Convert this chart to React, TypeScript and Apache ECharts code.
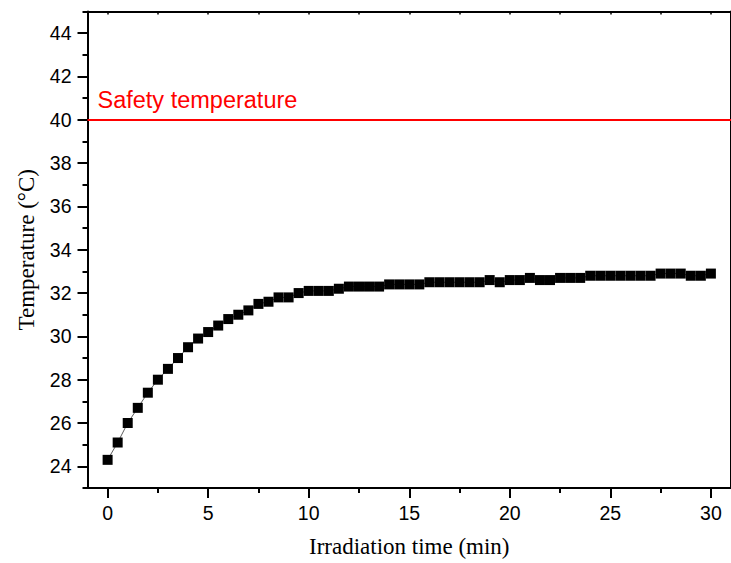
import React, { useEffect, useRef } from "react";
import * as echarts from "echarts";

const times = [
  0, 0.5, 1, 1.5, 2, 2.5, 3, 3.5, 4, 4.5, 5, 5.5, 6, 6.5, 7, 7.5, 8, 8.5, 9, 9.5,
  10, 10.5, 11, 11.5, 12, 12.5, 13, 13.5, 14, 14.5, 15, 15.5, 16, 16.5, 17, 17.5,
  18, 18.5, 19, 19.5, 20, 20.5, 21, 21.5, 22, 22.5, 23, 23.5, 24, 24.5, 25, 25.5,
  26, 26.5, 27, 27.5, 28, 28.5, 29, 29.5, 30,
];

const temps = [
  24.3, 25.1, 26.0, 26.7, 27.4, 28.0, 28.5, 29.0, 29.5, 29.9, 30.2, 30.5, 30.8,
  31.0, 31.2, 31.5, 31.6, 31.8, 31.8, 32.0, 32.1, 32.1, 32.1, 32.2, 32.3, 32.3,
  32.3, 32.3, 32.4, 32.4, 32.4, 32.4, 32.5, 32.5, 32.5, 32.5, 32.5, 32.5, 32.6,
  32.5, 32.6, 32.6, 32.7, 32.6, 32.6, 32.7, 32.7, 32.7, 32.8, 32.8, 32.8, 32.8,
  32.8, 32.8, 32.8, 32.9, 32.9, 32.9, 32.8, 32.8, 32.9,
];

const xMajorTicks = [0, 5, 10, 15, 20, 25, 30];
const xMinorTicks = [2.5, 7.5, 12.5, 17.5, 22.5, 27.5];
const xTopTicks = [0, 2.5, 5, 7.5, 10, 12.5, 15, 17.5, 20, 22.5, 25, 27.5, 30];
const yMajorTicks = [24, 26, 28, 30, 32, 34, 36, 38, 40, 42, 44];
const yMinorTicks = [23, 25, 27, 29, 31, 33, 35, 37, 39, 41, 43, 45];

const safetyTemp = 40;
const safetyLabel = "Safety temperature";
const xName = "Irradiation time (min)";
const yName = "Temperature (\u00B0C)";

const SANS = "Arial, 'Liberation Sans', sans-serif";
const SERIF = "'Times New Roman', 'Liberation Serif', serif";

export default function App() {
  const ref = useRef<HTMLDivElement>(null);

  useEffect(() => {
    if (!ref.current) return;
    const chart = echarts.init(ref.current, undefined, { renderer: "svg" });
    const axisLine = { show: true, onZero: false, lineStyle: { color: "#000", width: 2 } };
    const noLine = { show: false, onZero: false };
    const xBase = { type: "value", min: -1, max: 31, splitLine: { show: false } };
    const yBase = { type: "value", min: 23, max: 45, splitLine: { show: false } };
    chart.setOption({
      animation: false,
      backgroundColor: "#fff",
      grid: { left: 87.5, top: 11.5, width: 648.5, height: 476.8, containLabel: false },
      xAxis: [
        {
          ...xBase,
          position: "bottom",
          axisLine,
          axisTick: {
            show: true,
            inside: false,
            length: 10,
            customValues: xMajorTicks,
            lineStyle: { color: "#000", width: 2 },
          },
          axisLabel: {
            show: true,
            customValues: xMajorTicks,
            margin: 15,
            color: "#000",
            fontSize: 19.5,
            fontFamily: SANS,
          },
          name: xName,
          nameLocation: "middle",
          nameGap: 47,
          nameTextStyle: { color: "#000", fontSize: 23, fontFamily: SERIF },
        },
        {
          ...xBase,
          position: "bottom",
          axisLine: noLine,
          axisTick: {
            show: true,
            inside: false,
            length: 5,
            customValues: xMinorTicks,
            lineStyle: { color: "#000", width: 2 },
          },
          axisLabel: { show: false },
        },
        {
          ...xBase,
          position: "top",
          axisLine,
          axisTick: {
            show: true,
            inside: true,
            length: 3,
            customValues: xTopTicks,
            lineStyle: { color: "#000", width: 1.5 },
          },
          axisLabel: { show: false },
        },
      ],
      yAxis: [
        {
          ...yBase,
          position: "left",
          axisLine,
          axisTick: {
            show: true,
            inside: false,
            length: 10,
            customValues: yMajorTicks,
            lineStyle: { color: "#000", width: 2 },
          },
          axisLabel: {
            show: true,
            customValues: yMajorTicks,
            margin: 16,
            color: "#000",
            fontSize: 19.5,
            fontFamily: SANS,
          },
          name: yName,
          nameLocation: "middle",
          nameGap: 50,
          nameTextStyle: { color: "#000", fontSize: 23, fontFamily: SERIF },
        },
        {
          ...yBase,
          position: "left",
          axisLine: noLine,
          axisTick: {
            show: true,
            inside: false,
            length: 5,
            customValues: yMinorTicks,
            lineStyle: { color: "#000", width: 2 },
          },
          axisLabel: { show: false },
        },
        {
          ...yBase,
          position: "right",
          axisLine,
          axisTick: { show: false },
          axisLabel: { show: false },
        },
      ],
      series: [
        {
          type: "line",
          xAxisIndex: 0,
          yAxisIndex: 0,
          data: times.map((t, i) => [t, temps[i]]),
          symbol: "rect",
          symbolSize: 10,
          showSymbol: true,
          itemStyle: { color: "#000" },
          lineStyle: { color: "#333", width: 0.8 },
          z: 3,
          markLine: {
            silent: true,
            symbol: ["none", "none"],
            lineStyle: { color: "#ff0000", width: 2, type: "solid" },
            label: {
              show: true,
              position: "insideStartTop",
              formatter: safetyLabel,
              color: "#ff0000",
              fontSize: 23.5,
              fontFamily: SANS,
              distance: [10, 8],
            },
            data: [{ yAxis: safetyTemp }],
          },
        },
      ],
    });
    return () => chart.dispose();
  }, []);

  return (
    <div
      ref={ref}
      style={{ position: "absolute", left: 0, top: 0, width: 731, height: 563 }}
    />
  );
}
